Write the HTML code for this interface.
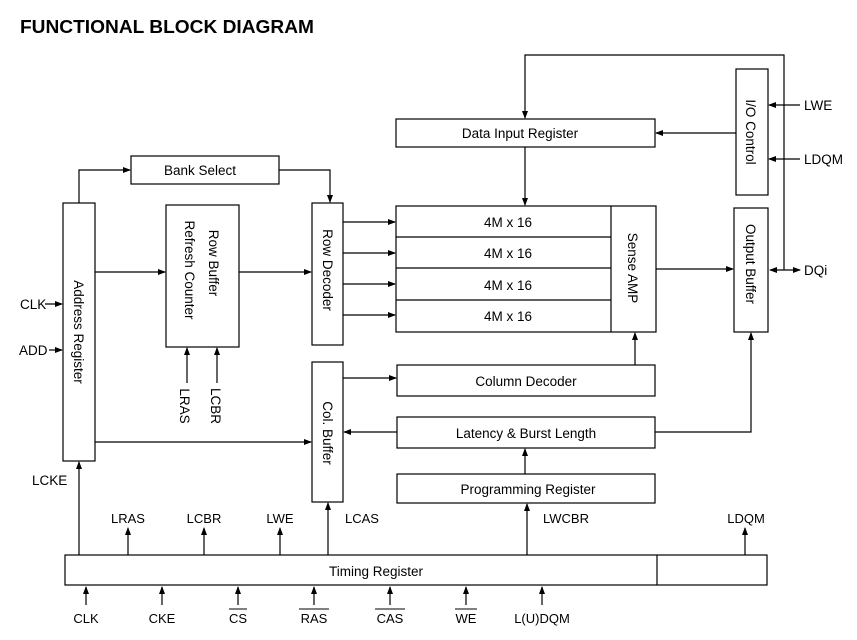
<!DOCTYPE html>
<html><head><meta charset="utf-8"><style>
html,body{margin:0;padding:0;background:#fff;}
svg{display:block;font-family:"Liberation Sans",Arial,sans-serif;}
</style></head><body>
<svg width="857" height="640" viewBox="0 0 857 640" xmlns="http://www.w3.org/2000/svg">
<defs>
<marker id="a" markerWidth="8" markerHeight="8" refX="7" refY="4" orient="auto" markerUnits="userSpaceOnUse">
<path d="M0,1 L8,4 L0,7 Z" fill="#000"/></marker>
<marker id="s" markerWidth="8" markerHeight="8" refX="1" refY="4" orient="auto" markerUnits="userSpaceOnUse">
<path d="M8,1 L0,4 L8,7 Z" fill="#000"/></marker>
</defs>
<text x="20" y="33" font-size="18" font-weight="bold" textLength="294" lengthAdjust="spacingAndGlyphs">FUNCTIONAL BLOCK DIAGRAM</text>
<g fill="none" stroke="#000" stroke-width="1.2">
<rect x="63" y="203" width="32" height="258"/>
<rect x="131" y="156" width="148" height="28"/>
<rect x="166" y="205" width="73" height="142"/>
<rect x="312" y="203" width="31" height="142"/>
<rect x="396" y="206" width="260" height="126"/>
<line x1="396" y1="237" x2="611" y2="237"/>
<line x1="396" y1="268" x2="611" y2="268"/>
<line x1="396" y1="300" x2="611" y2="300"/>
<line x1="611" y1="206" x2="611" y2="332"/>
<rect x="396" y="119" width="259" height="28"/>
<rect x="736" y="69" width="32" height="126"/>
<rect x="734" y="208" width="34" height="124"/>
<rect x="312" y="362" width="31" height="140"/>
<rect x="397" y="365" width="258" height="31"/>
<rect x="397" y="417" width="258" height="31"/>
<rect x="397" y="474" width="258" height="29"/>
<rect x="65" y="555" width="702" height="30"/>
<line x1="657" y1="555" x2="657" y2="585"/>
</g>
<g fill="none" stroke="#000" stroke-width="1.2">
<polyline points="79,203 79,170 130,170" marker-end="url(#a)"/>
<polyline points="279,170 330,170 330,202" marker-end="url(#a)"/>
<line x1="95" y1="272" x2="165" y2="272" marker-end="url(#a)"/>
<line x1="239" y1="272" x2="311" y2="272" marker-end="url(#a)"/>
<line x1="187" y1="383" x2="187" y2="348" marker-end="url(#a)"/>
<line x1="217" y1="383" x2="217" y2="348" marker-end="url(#a)"/>
<line x1="343" y1="222" x2="395" y2="222" marker-end="url(#a)"/>
<line x1="343" y1="253" x2="395" y2="253" marker-end="url(#a)"/>
<line x1="343" y1="284" x2="395" y2="284" marker-end="url(#a)"/>
<line x1="343" y1="315" x2="395" y2="315" marker-end="url(#a)"/>
<line x1="525" y1="147" x2="525" y2="205" marker-end="url(#a)"/>
<polyline points="784,270 784,55 525,55 525,118" marker-end="url(#a)"/>
<line x1="736" y1="133" x2="656" y2="133" marker-end="url(#a)"/>
<line x1="800" y1="105" x2="769" y2="105" marker-end="url(#a)"/>
<line x1="800" y1="159" x2="769" y2="159" marker-end="url(#a)"/>
<line x1="656" y1="269" x2="733" y2="269" marker-end="url(#a)"/>
<line x1="770" y1="270" x2="800" y2="270" marker-start="url(#s)" marker-end="url(#a)"/>
<line x1="635" y1="365" x2="635" y2="333" marker-end="url(#a)"/>
<polyline points="655,432 751,432 751,333" marker-end="url(#a)"/>
<line x1="343" y1="378" x2="396" y2="378" marker-end="url(#a)"/>
<line x1="397" y1="432" x2="344" y2="432" marker-end="url(#a)"/>
<line x1="525" y1="474" x2="525" y2="449" marker-end="url(#a)"/>
<line x1="95" y1="442" x2="311" y2="442" marker-end="url(#a)"/>
<line x1="45" y1="304" x2="62" y2="304" marker-end="url(#a)"/>
<line x1="49" y1="350" x2="62" y2="350" marker-end="url(#a)"/>
<line x1="79" y1="555" x2="79" y2="462" marker-end="url(#a)"/>
<line x1="128" y1="555" x2="128" y2="528" marker-end="url(#a)"/>
<line x1="204" y1="555" x2="204" y2="528" marker-end="url(#a)"/>
<line x1="280" y1="555" x2="280" y2="528" marker-end="url(#a)"/>
<line x1="328" y1="555" x2="328" y2="503" marker-end="url(#a)"/>
<line x1="527" y1="555" x2="527" y2="504" marker-end="url(#a)"/>
<line x1="745" y1="555" x2="745" y2="528" marker-end="url(#a)"/>
<line x1="86" y1="605" x2="86" y2="587" marker-end="url(#a)"/>
<line x1="162" y1="605" x2="162" y2="587" marker-end="url(#a)"/>
<line x1="238" y1="605" x2="238" y2="587" marker-end="url(#a)"/>
<line x1="314" y1="605" x2="314" y2="587" marker-end="url(#a)"/>
<line x1="390" y1="605" x2="390" y2="587" marker-end="url(#a)"/>
<line x1="466" y1="605" x2="466" y2="587" marker-end="url(#a)"/>
<line x1="542" y1="605" x2="542" y2="587" marker-end="url(#a)"/>
</g>
<g font-size="13.5" fill="#000" text-anchor="middle">
<text x="200" y="175">Bank Select</text>
<text x="520" y="138">Data Input Register</text>
<text x="508" y="227">4M x 16</text>
<text x="508" y="258">4M x 16</text>
<text x="508" y="290">4M x 16</text>
<text x="508" y="321">4M x 16</text>
<text x="526" y="386">Column Decoder</text>
<text x="526" y="438">Latency &amp; Burst Length</text>
<text x="528" y="494">Programming Register</text>
<text x="376" y="576">Timing Register</text>
<text transform="translate(74,332) rotate(90)">Address Register</text>
<text transform="translate(209,263) rotate(90)">Row Buffer</text>
<text transform="translate(185,270) rotate(90)">Refresh Counter</text>
<text transform="translate(323,270) rotate(90)">Row Decoder</text>
<text transform="translate(323,433) rotate(90)">Col. Buffer</text>
<text transform="translate(628,268) rotate(90)">Sense AMP</text>
<text transform="translate(746,132) rotate(90)">I/O Control</text>
<text transform="translate(746,264) rotate(90)">Output Buffer</text>
<text transform="translate(180,406) rotate(90)">LRAS</text>
<text transform="translate(211,406) rotate(90)">LCBR</text>
</g>
<g font-size="13.5" fill="#000">
<text x="20" y="309">CLK</text>
<text x="19" y="355">ADD</text>
<text x="32" y="485">LCKE</text>
<text x="804" y="110">LWE</text>
<text x="804" y="164">LDQM</text>
<text x="804" y="275">DQi</text>
</g>
<g font-size="13" fill="#000" text-anchor="middle">
<text x="128" y="523">LRAS</text>
<text x="204" y="523">LCBR</text>
<text x="280" y="523">LWE</text>
<text x="362" y="523">LCAS</text>
<text x="566" y="523">LWCBR</text>
<text x="746" y="523">LDQM</text>
<text x="86" y="623">CLK</text>
<text x="162" y="623">CKE</text>
<text x="238" y="623">CS</text>
<text x="314" y="623">RAS</text>
<text x="390" y="623">CAS</text>
<text x="466" y="623">WE</text>
<text x="542" y="623">L(U)DQM</text>
</g>
<g stroke="#000" stroke-width="1">
<line x1="229" y1="609" x2="247" y2="609"/>
<line x1="299" y1="609" x2="329" y2="609"/>
<line x1="375" y1="609" x2="405" y2="609"/>
<line x1="455" y1="609" x2="477" y2="609"/>
</g>
</svg>
</body></html>
